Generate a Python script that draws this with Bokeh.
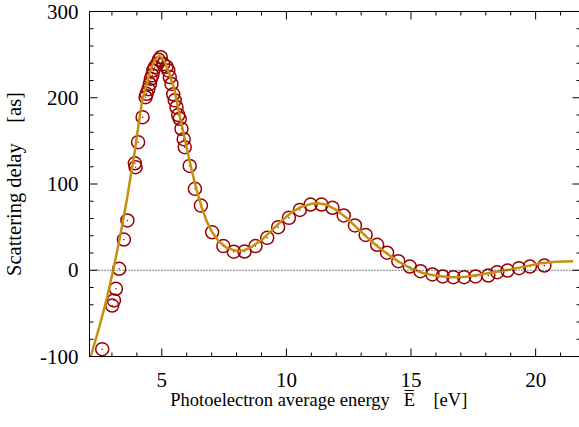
from bokeh.plotting import figure
from bokeh.models import Range1d, Span, SingleIntervalTicker
from bokeh.embed import file_html
from bokeh.resources import INLINE

# measured scattering delay points (eV, as)
energy = [2.61, 3.01, 3.08, 3.16, 3.29, 3.48, 3.62, 3.92, 3.95, 4.05,
          4.23, 4.35, 4.39, 4.46, 4.52, 4.56, 4.62, 4.66, 4.72, 4.82,
          4.88, 4.96, 5.06, 5.19, 5.26, 5.32, 5.39, 5.46, 5.52, 5.59,
          5.66, 5.72, 5.79, 5.88, 5.92, 6.12, 6.33, 6.57, 7.02, 7.47,
          7.89, 8.32, 8.76, 9.23, 9.67, 10.1, 10.54, 10.97, 11.41, 11.85,
          12.3, 12.75, 13.18, 13.64, 14.04, 14.49, 14.95, 15.38, 15.86, 16.27,
          16.7, 17.13, 17.59, 18.1, 18.46, 18.87, 19.33, 19.77, 20.35]
delay = [-91.5, -40.9, -35, -21.5, 1.7, 35.6, 57.7, 124, 119.5, 148.5,
         177.5, 200.6, 204.6, 210, 216, 222, 226, 231.6, 235.5, 239.3,
         244, 247, 239, 236, 231.6, 224, 216, 204, 197, 189,
         180, 175.6, 164, 152, 142.7, 121, 94.4, 75, 44, 28,
         21.5, 21.7, 28, 37.6, 50, 60.8, 70, 76.2, 76.2, 72.4,
         63.5, 51.9, 41, 29.5, 20.3, 10.5, 4.3, -1.1, -4.9, -7.2,
         -8, -8, -7.2, -6.1, -2.2, -0.3, 2.4, 4.3, 5.5]

# theory curve (eV, as)
curve_e = [2.15, 2.5, 2.8, 3.05, 3.3, 3.6, 3.9, 4.2, 4.5, 4.7,
           4.9, 5.1, 5.3, 5.5, 5.8, 6.0, 6.2, 6.4, 6.6, 6.8,
           7.0, 7.3, 7.6, 8.0, 8.3, 8.6, 9.0, 9.4, 9.8, 10.2,
           10.6, 11.0, 11.3, 11.6, 12.0, 12.4, 12.8, 13.2, 13.6, 14.0,
           14.5, 15.0, 15.5, 16.0, 16.6, 17.2, 17.8, 18.4, 19.0, 19.6,
           20.2, 20.8, 21.5]
curve_d = [-100, -65, -32, 0, 35, 82, 135, 195, 228, 243,
           249, 243, 228, 210, 168, 142, 116, 93, 73, 57,
           45, 33, 26, 22.5, 23, 27, 35, 46, 57, 67,
           73.5, 77, 77.7, 76, 70, 61, 50, 39, 29, 20,
           10, 2, -3.5, -6.5, -8, -7.5, -5, -2, 1, 4.5,
           8, 9.8, 10.5]

# axis ranges and ticks
x_lo, x_hi = 2.1, 21.8
y_lo, y_hi = -100, 300
x_major = [5, 10, 15, 20]
x_minor = [3, 4, 6, 7, 8, 9, 11, 12, 13, 14, 16, 17, 18, 19, 21]
y_major = [-100, 0, 100, 200, 300]
y_minor = [-80, -60, -40, -20, 20, 40, 60, 80, 120, 140, 160, 180,
           220, 240, 260, 280]

FONT = "Liberation Serif"
RED = "#990000"
GOLD = "#c4900f"
NB = "\u00a0"
FRAME_W, FRAME_H = 491, 345
MAJ_PX, MIN_PX = 8, 4

p = figure(frame_width=FRAME_W, frame_height=FRAME_H,
           x_range=Range1d(x_lo, x_hi), y_range=Range1d(y_lo, y_hi),
           output_backend="svg", toolbar_location=None,
           min_border_left=88, min_border_top=11, min_border_right=0, min_border_bottom=71)
p.grid.visible = False
p.outline_line_color = "black"
p.outline_line_width = 1
p.background_fill_color = "white"
p.border_fill_color = "white"

for ax in (p.xaxis[0], p.yaxis[0]):
    ax.major_tick_in = 0
    ax.major_tick_out = 0
    ax.minor_tick_in = 0
    ax.minor_tick_out = 0
    ax.axis_line_color = "black"
    ax.major_label_text_font = FONT
    ax.major_label_text_font_size = "21px"
    ax.major_label_text_color = "black"
    ax.axis_label_text_font = FONT
    ax.axis_label_text_font_style = "normal"
    ax.axis_label_text_color = "black"

p.xaxis[0].ticker = SingleIntervalTicker(interval=5, num_minor_ticks=5)
p.yaxis[0].ticker = SingleIntervalTicker(interval=100, num_minor_ticks=5)
p.yaxis[0].major_label_overrides = {-100: "-100"}
p.yaxis[0].major_label_standoff = 11
p.xaxis[0].major_label_standoff = 16

p.yaxis[0].axis_label = "Scattering delay" + NB * 4 + "[as]"
p.yaxis[0].axis_label_text_font_size = "20.5px"
p.yaxis[0].axis_label_standoff = 12

p.xaxis[0].axis_label = ("Photoelectron average energy" + NB * 3 + "E\u0305" + NB * 4
                         + "[eV]" + NB * 7)
p.xaxis[0].axis_label_text_font_size = "18.5px"
p.xaxis[0].axis_label_standoff = 0

zero = Span(location=0, dimension="width", line_color="black", line_width=1, line_dash="1 2")
p.add_layout(zero)

# inward ticks on all four sides (lengths converted from pixels to data units)
dx_maj = MAJ_PX * (x_hi - x_lo) / FRAME_W
dx_min = MIN_PX * (x_hi - x_lo) / FRAME_W
dy_maj = MAJ_PX * (y_hi - y_lo) / FRAME_H
dy_min = MIN_PX * (y_hi - y_lo) / FRAME_H
seg_kw = dict(line_color="black", line_width=1)
for ticks, dy in ((x_major, dy_maj), (x_minor, dy_min)):
    n = len(ticks)
    p.segment(x0=ticks, x1=ticks, y0=[y_lo] * n, y1=[y_lo + dy] * n, **seg_kw)
    p.segment(x0=ticks, x1=ticks, y0=[y_hi] * n, y1=[y_hi - dy] * n, **seg_kw)
for ticks, dx in ((y_major, dx_maj), (y_minor, dx_min)):
    n = len(ticks)
    p.segment(x0=[x_lo] * n, x1=[x_lo + dx] * n, y0=ticks, y1=ticks, **seg_kw)
    p.segment(x0=[x_hi] * n, x1=[x_hi - dx] * n, y0=ticks, y1=ticks, **seg_kw)

p.scatter(energy, delay, marker="circle", size=13, fill_color=None,
          line_color=RED, line_width=1.5)
p.scatter(energy, delay, marker="circle", size=1.5, fill_color=RED, line_color=None)
p.line(curve_e, curve_d, line_color=GOLD, line_width=2.5)

open("out.html", "w").write(file_html(p, INLINE))
